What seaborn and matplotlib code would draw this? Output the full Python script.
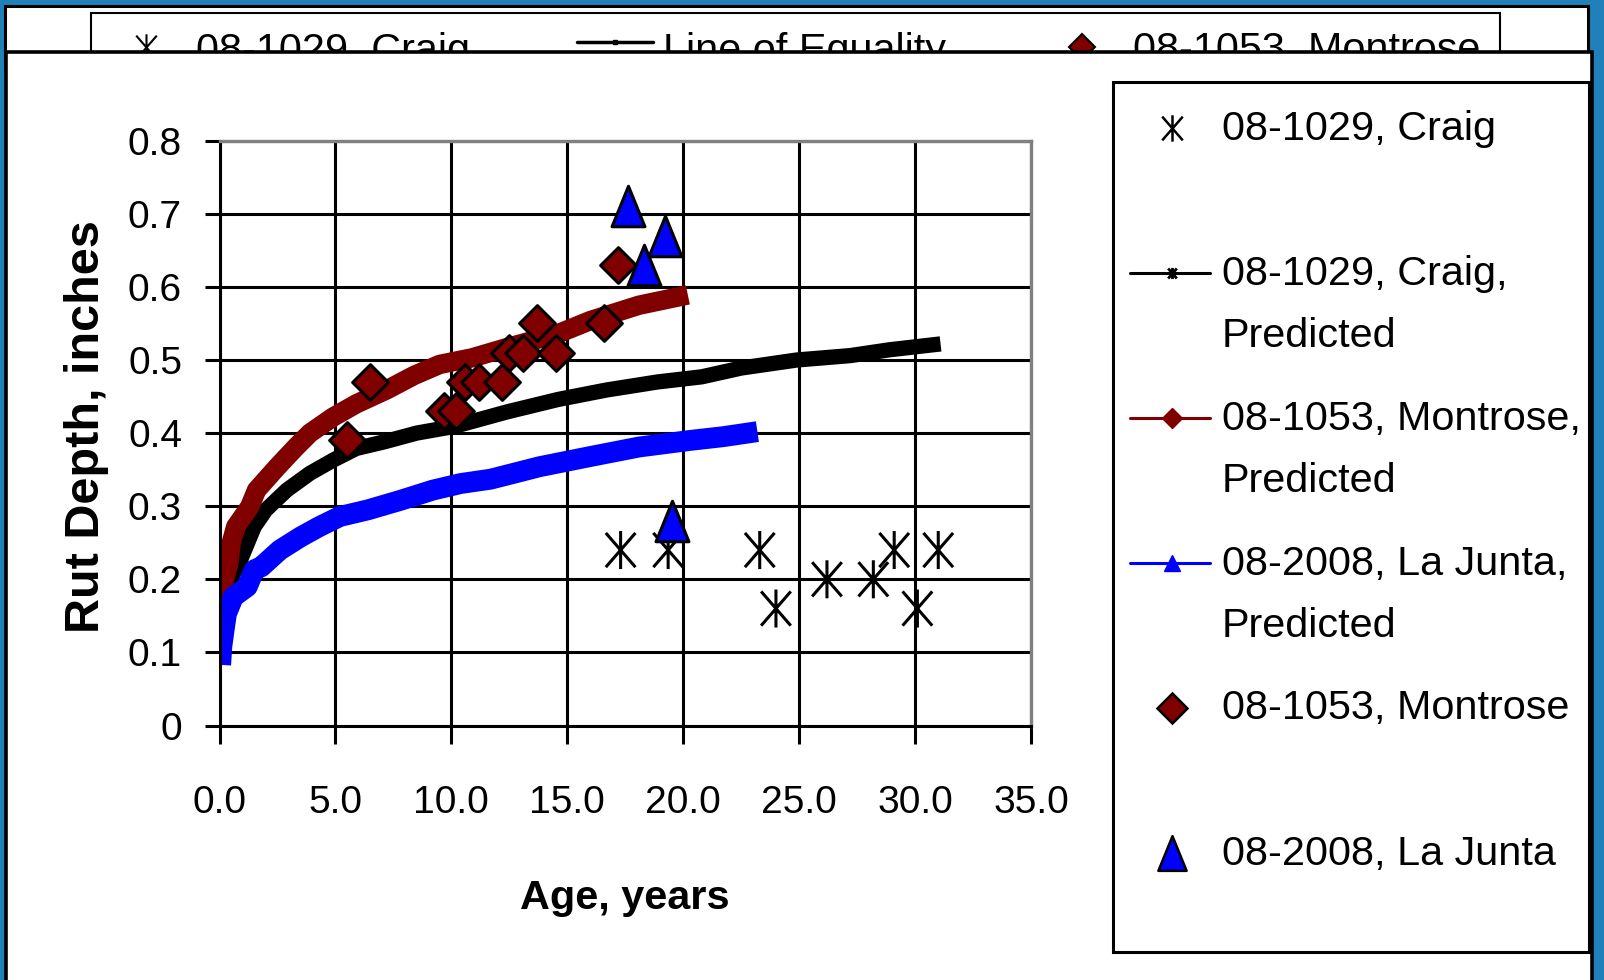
import numpy as np
import pandas as pd
import matplotlib.pyplot as plt
import seaborn as sns
from matplotlib import font_manager
from matplotlib.lines import Line2D
from matplotlib.patches import Rectangle
from matplotlib.path import Path

# ---- data ----
craig_age = [17.3, 19.35, 23.3, 24.0, 26.2, 28.2, 29.1, 30.1, 31.0]
craig_rut = [0.24, 0.24, 0.24, 0.16, 0.20, 0.20, 0.24, 0.16, 0.24]

montrose_age = [5.5, 6.5, 9.7, 10.2, 10.6, 11.2, 12.2, 12.5, 13.1, 13.7, 14.5, 16.6, 17.2]
montrose_rut = [0.39, 0.47, 0.43, 0.43, 0.47, 0.47, 0.47, 0.51, 0.51, 0.55, 0.51, 0.55, 0.63]

lajunta_age = [17.6, 18.3, 19.2, 19.5]
lajunta_rut = [0.71, 0.63, 0.67, 0.28]

craig_pred_age = [0.0, 0.3, 0.9, 1.5, 2.0, 2.9, 3.9, 4.9, 5.9, 7.1, 8.5, 10.1,
                  12.4, 14.6, 16.7, 18.9, 20.8, 22.5, 24.9, 27.2, 28.9, 31.1]
craig_pred_rut = [0.15, 0.19, 0.226, 0.272, 0.295, 0.322, 0.345, 0.363, 0.379, 0.388, 0.40, 0.409,
                  0.429, 0.446, 0.459, 0.47, 0.477, 0.489, 0.50, 0.506, 0.514, 0.522]

montrose_pred_age = [0.0, 0.05, 0.2, 0.4, 0.5, 0.7, 1.3, 1.6, 2.5, 3.3, 3.9, 4.9, 5.9, 7.2,
                     8.4, 9.5, 10.9, 12.4, 14.6, 16.0, 18.1, 20.2]
montrose_pred_rut = [0.126, 0.154, 0.199, 0.222, 0.249, 0.272, 0.299, 0.322, 0.354, 0.381, 0.40,
                     0.422, 0.44, 0.459, 0.479, 0.494, 0.503, 0.517, 0.536, 0.554, 0.575, 0.589]

lajunta_pred_age = [0.05, 0.1, 0.2, 0.3, 0.6, 1.2, 1.5, 1.8, 2.6, 3.5, 4.3, 5.2, 6.4, 7.8,
                    9.2, 10.4, 11.7, 13.8, 16.0, 18.1, 20.3, 21.7, 23.2]
lajunta_pred_rut = [0.083, 0.108, 0.131, 0.153, 0.176, 0.19, 0.213, 0.217, 0.24, 0.258, 0.272,
                    0.286, 0.295, 0.308, 0.322, 0.331, 0.337, 0.354, 0.368, 0.381, 0.39, 0.395, 0.402]

x_ticks = [0, 5, 10, 15, 20, 25, 30, 35]
x_labels = ['0.0', '5.0', '10.0', '15.0', '20.0', '25.0', '30.0', '35.0']
y_ticks = [0, 0.1, 0.2, 0.3, 0.4, 0.5, 0.6, 0.7, 0.8]
y_labels = ['0', '0.1', '0.2', '0.3', '0.4', '0.5', '0.6', '0.7', '0.8']

legend_labels = [['08-1029, Craig'],
                 ['08-1029, Craig,', 'Predicted'],
                 ['08-1053, Montrose,', 'Predicted'],
                 ['08-2008, La Junta,', 'Predicted'],
                 ['08-1053, Montrose'],
                 ['08-2008, La Junta']]
top_labels = ['08-1029, Craig', 'Line of Equality', '08-1053, Montrose']

RED = '#800000'
BLUE = '#0000ff'
FRAME = '#1f80ba'


def pick_font(name, fallback):
    try:
        font_manager.findfont(name, fallback_to_default=False)
        return name
    except ValueError:
        return fallback


sns.set_style('white')
narrow = pick_font('Liberation Sans Narrow', None)
if narrow:
    main_font, k = narrow, 1.0
else:
    main_font, k = 'Liberation Sans', 0.85   # no narrow face: shrink so the widths still fit
plt.rcParams['font.family'] = [main_font, 'DejaVu Sans']
plt.rcParams['text.color'] = 'black'
plt.rcParams['axes.labelcolor'] = 'black'
plt.rcParams['xtick.color'] = 'black'
plt.rcParams['ytick.color'] = 'black'

# marker shapes like the Excel ones
asterisk = Path([(0, -1), (0, 1), (-0.78, -0.9), (0.78, 0.9), (-0.78, 0.9), (0.78, -0.9)],
                [Path.MOVETO, Path.LINETO] * 3)
triangle = Path([(0, 1.23), (-1, -1.23), (1, -1.23), (0, 1.23)],
                [Path.MOVETO, Path.LINETO, Path.LINETO, Path.CLOSEPOLY])

W, H = 1604, 980
fig = plt.figure(figsize=(W / 100, H / 100), dpi=100)
fig.patch.set_facecolor(FRAME)


def fx(px):
    return px / W


def fy(py):
    return 1 - py / H


def box(x0, y0, x1, y1, z, lw=2.2, fc='white'):
    fig.add_artist(Rectangle((fx(x0), fy(y1)), fx(x1) - fx(x0), fy(y0) - fy(y1),
                             facecolor=fc, edgecolor='black', linewidth=lw, zorder=z))


# top strip (legend of another chart, mostly hidden)
box(5, 6, 1588, 70, 1)
box(91, 13, 1500, 90, 1.1, lw=1.5)
fig.add_artist(Line2D([fx(146)], [fy(47)], marker=asterisk, markersize=19, color='black',
                      markerfacecolor='none', markeredgewidth=1.5, linestyle='none', zorder=1.2))
fig.add_artist(Line2D([fx(577), fx(653)], [fy(42), fy(42)], color='black', linewidth=2.5,
                      zorder=1.2))
fig.add_artist(Line2D([fx(615)], [fy(42)], marker='s', markersize=3, color='black', zorder=1.2))
fig.add_artist(Line2D([fx(1082)], [fy(47)], marker='D', markersize=13, markerfacecolor=RED,
                      markeredgecolor='black', markeredgewidth=1.5, linestyle='none', zorder=1.2))
for xpos, s in zip([196, 663, 1133], top_labels):
    fig.text(fx(xpos), fy(61.5), s, fontsize=35 * k, va='baseline', ha='left', zorder=1.2)

# main white panel
box(6, 52, 1592, 1000, 1.5, lw=2.6)

# plot area
ax = fig.add_axes([fx(219.5), fy(725.5), fx(1031) - fx(219.5), fy(140.7) - fy(725.5)])
ax.set_zorder(2)
ax.set_facecolor('white')
ax.set_axisbelow(True)

preds = [(craig_pred_age, craig_pred_rut, 'black', 11),
         (montrose_pred_age, montrose_pred_rut, RED, 14),
         (lajunta_pred_age, lajunta_pred_rut, BLUE, 15)]
for age, rut, col, lw in preds:
    df = pd.DataFrame({'age': age, 'rut': rut})
    sns.lineplot(data=df, x='age', y='rut', color=col, linewidth=lw, ax=ax,
                 estimator=None, sort=False, errorbar=None, solid_capstyle='butt')

sns.scatterplot(x=craig_age, y=craig_rut, marker=asterisk, s=750, color='black',
                facecolor='none', edgecolor='black', linewidth=2.2, ax=ax, zorder=4)
sns.scatterplot(x=montrose_age, y=montrose_rut, marker='D', s=330, color=RED,
                edgecolor='black', linewidth=2.2, ax=ax, zorder=5)
sns.scatterplot(x=lajunta_age, y=lajunta_rut, marker=triangle, s=850, color=BLUE,
                edgecolor='black', linewidth=2.2, ax=ax, zorder=6)

ax.set_xlim(0, 35)
ax.set_ylim(0, 0.8)
ax.set_xticks(x_ticks)
ax.set_xticklabels(x_labels)
ax.set_yticks(y_ticks)
ax.set_yticklabels(y_labels)
ax.grid(True, color='black', linewidth=2.2)
ax.tick_params(axis='x', direction='out', length=13, width=2.2, labelsize=33 * k, pad=30,
               bottom=True, color='black', labelcolor='black')
ax.tick_params(axis='y', direction='out', length=11, width=2.2, labelsize=33 * k, pad=16,
               left=True, color='black', labelcolor='black')
for side in ['left', 'bottom']:
    ax.spines[side].set_color('black')
    ax.spines[side].set_linewidth(2.2)
for side in ['top', 'right']:
    ax.spines[side].set_color('#808080')
    ax.spines[side].set_linewidth(2.4)

ax.set_xlabel('Age, years', fontsize=35 * k, fontweight='bold', va='top', color='black')
ax.xaxis.set_label_coords(0.5, -0.262)
ax.set_ylabel('Rut Depth, inches', fontsize=35, fontweight='bold', color='black',
              family=['Liberation Sans', 'DejaVu Sans'])
ax.yaxis.set_label_coords(-0.136, 0.512)

# right-hand legend, laid out like the Excel one
box(1112.7, 81.7, 1589, 951.7, 3, lw=2.2)
hx0, hx1, hm, tx = 1130, 1210, 1172, 1222
fig.add_artist(Line2D([fx(hm)], [fy(128)], marker=asterisk, markersize=19, color='black',
                      markerfacecolor='none', markeredgewidth=1.8, linestyle='none', zorder=4))
fig.add_artist(Line2D([fx(hx0), fx(hx1)], [fy(273), fy(273)], color='black', linewidth=2.2, zorder=4))
fig.add_artist(Line2D([fx(hm)], [fy(273)], marker=asterisk, markersize=8, color='black',
                      markerfacecolor='none', markeredgewidth=2, linestyle='none', zorder=4))
fig.add_artist(Line2D([fx(hx0), fx(hx1)], [fy(418), fy(418)], color=RED, linewidth=2.2,
                      zorder=4))
fig.add_artist(Line2D([fx(hm)], [fy(418)], marker='D', markersize=10, color=RED,
                      linestyle='none', zorder=4))
fig.add_artist(Line2D([fx(hx0), fx(hx1)], [fy(563), fy(563)], color=BLUE, linewidth=2.2,
                      zorder=4))
fig.add_artist(Line2D([fx(hm)], [fy(563)], marker='^', markersize=12, color=BLUE,
                      linestyle='none', zorder=4))
fig.add_artist(Line2D([fx(hm)], [fy(708)], marker='D', markersize=15, markerfacecolor=RED,
                      markeredgecolor='black', markeredgewidth=1.8, linestyle='none', zorder=4))
fig.add_artist(Line2D([fx(hm)], [fy(853)], marker=triangle, markersize=25, markerfacecolor=BLUE,
                      markeredgecolor='black', markeredgewidth=1.8, linestyle='none', zorder=4))

baselines = [[143.3], [288, 350], [433, 495], [578, 640], [722], [868]]
for lines, bls in zip(legend_labels, baselines):
    for s, b in zip(lines, bls):
        fig.text(fx(tx), fy(b - 3), s, fontsize=35 * k, va='baseline', ha='left', zorder=4)

fig.savefig('out.png', dpi=100, facecolor=fig.get_facecolor())
